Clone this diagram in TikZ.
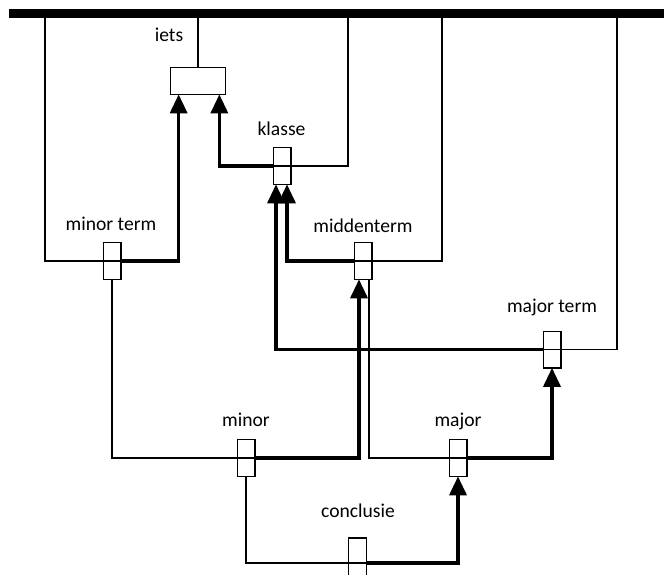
\documentclass[tikz,border=0pt]{standalone}
\usepackage{fontspec}
\setmainfont{Carlito}
\usetikzlibrary{arrows.meta}
\begin{document}
\begin{tikzpicture}[x=1pt,y=-1pt,
  thinline/.style={line width=1.3pt},
  thickarrow/.style={line width=3.5pt,-{Triangle[width=17pt,length=19pt]}},
  smallbox/.style={draw,line width=1.3pt,minimum width=17.7pt,minimum height=36.7pt,inner sep=0pt,outer sep=0pt},
  lbl/.style={anchor=base,inner sep=0pt,font=\fontsize{19.6}{22}\selectfont}]
\useasboundingbox (0,0) rectangle (664,574);
\clip (0,0) rectangle (664,574);
% top bar
\node[fill=black,minimum width=655pt,minimum height=9pt,inner sep=0pt,outer sep=0pt,anchor=north west] (bar) at (9,9) {};
\coordinate (b1) at (45,13);
\coordinate (b2) at (348,13);
\coordinate (b3) at (442,13);
\coordinate (b4) at (617,13);
% boxes
\node[draw,line width=1.3pt,minimum width=54.7pt,minimum height=26.7pt,inner sep=0pt,outer sep=0pt] (iets) at (198,81) {};
\node[smallbox] (kl) at (282,166) {};
\node[smallbox] (mt) at (112,261) {};
\node[smallbox] (md) at (363,261) {};
\node[smallbox] (mj) at (552,349.5) {};
\node[smallbox] (mi) at (246,458) {};
\node[smallbox] (ma) at (458,458) {};
\node[draw,line width=1.3pt,minimum width=17.7pt,minimum height=50pt,inner sep=0pt,outer sep=0pt] (co) at (357.5,563) {};
% labels
\node[lbl] (tiets) at (169,41.5) {iets};
\node[lbl] (tkl) at (281.5,135) {klasse};
\node[lbl] (tmt) at (111,230) {minor term};
\node[lbl] (tmd) at (363,232) {middenterm};
\node[lbl] (tmj) at (552,312) {major term};
\node[lbl] (tmi) at (246,426) {minor};
\node[lbl] (tma) at (458,426) {major};
\node[lbl] (tco) at (358,517) {conclusie};
% thin lines
\draw[thinline] (iets.north) -- (iets.north |- bar.south);
\draw[thinline] (b1) |- (mt.east);
\draw[thinline] (b2) |- (kl.west);
\draw[thinline] (b3) |- (md.west);
\draw[thinline] (b4) |- (mj.west);
\draw[thinline] (mt.south) |- (mi.east);
\draw[thinline] ([xshift=6pt]md.south) |- (ma.east);
\draw[thinline] (mi.south) |- (co.east);
% thick arrows
\draw[thickarrow] (mt.east) -| ([xshift=8pt]iets.south west);
\draw[thickarrow] (kl.west) -| ([xshift=-6pt]iets.south east);
\draw[thickarrow] (md.west) -| ([xshift=5pt]kl.south);
\draw[thickarrow] (mj.west) -| ([xshift=-6pt]kl.south);
\draw[thickarrow] (mi.east) -| ([xshift=-4pt]md.south);
\draw[thickarrow] (ma.east) -| (mj.south);
\draw[thickarrow] (co.east) -| (ma.south);
\end{tikzpicture}
\end{document}
